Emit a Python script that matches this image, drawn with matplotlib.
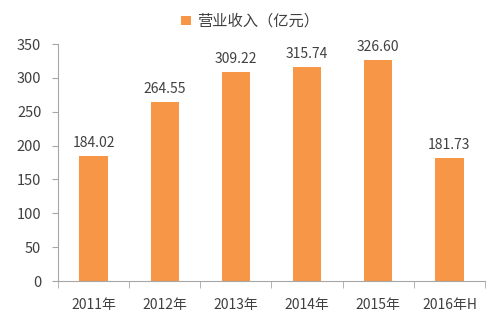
import matplotlib
matplotlib.use("Agg")
import matplotlib.pyplot as plt
import numpy as np

plt.rcParams["font.family"] = ["Noto Sans CJK SC", "DejaVu Sans"]

years = ["2011年", "2012年", "2013年", "2014年", "2015年", "2016年H"]
revenue = [184.02, 264.55, 309.22, 315.74, 326.60, 181.73]
series_name = "营业收入（亿元）"

BAR_COLOR = "#F79646"
AXIS_COLOR = "#A6A6A6"
TEXT_COLOR = "#404040"

fig = plt.figure(figsize=(5.0, 3.31), dpi=100)
ax = fig.add_axes([0.116, 0.151, 0.854, 0.716])

x = np.arange(len(years))
bars = ax.bar(x, revenue, width=0.4, color=BAR_COLOR, label=series_name, zorder=2)

for xi, v in zip(x, revenue):
    ax.text(xi, v + 9, f"{v:.2f}", ha="center", va="bottom", fontsize=10, color=TEXT_COLOR)

ax.set_xlim(-0.5, len(years) - 0.5)
ax.set_ylim(0, 350)
ax.set_yticks(np.arange(0, 351, 50))
ax.tick_params(axis="y", direction="out", length=4, color=AXIS_COLOR, labelsize=10.5, labelcolor=TEXT_COLOR, pad=8)

# category labels in the middle, tick marks on the boundaries
ax.set_xticks(x)
ax.set_xticklabels(years, fontsize=10, color=TEXT_COLOR)
ax.tick_params(axis="x", length=0, pad=12)
ax.set_xticks(np.arange(-0.5, len(years)), minor=True)
ax.tick_params(axis="x", which="minor", direction="out", length=5, color=AXIS_COLOR)

for side in ["top", "right"]:
    ax.spines[side].set_visible(False)
for side in ["left", "bottom"]:
    ax.spines[side].set_color(AXIS_COLOR)

fig.legend(handles=[bars], labels=[series_name], loc="center", bbox_to_anchor=(0.5, 0.935),
           frameon=False, fontsize=11, handlelength=0.6, handleheight=0.6, handletextpad=0.4,
           labelcolor=TEXT_COLOR)

fig.savefig("out.png", dpi=100)
